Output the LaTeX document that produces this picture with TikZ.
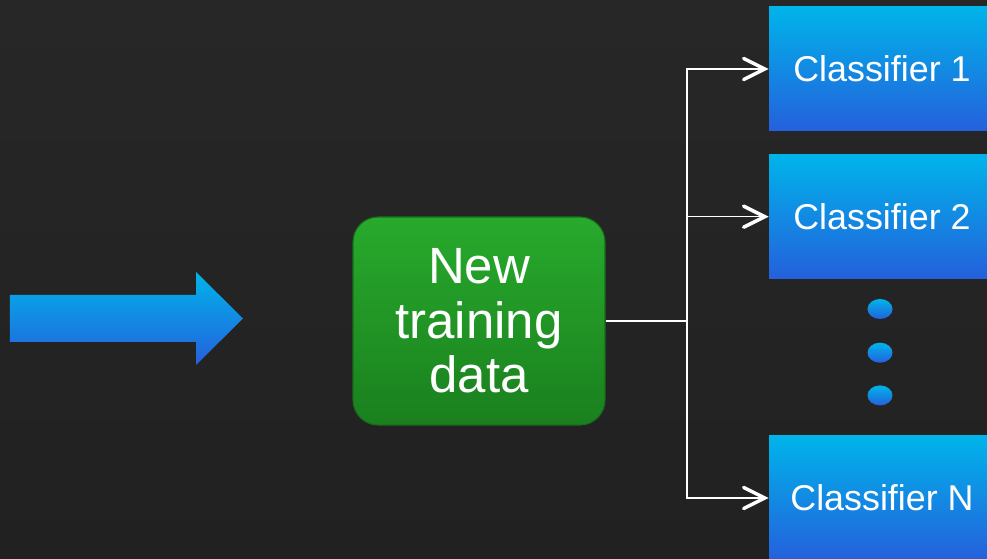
\documentclass[tikz,border=0pt]{standalone}
\usepackage{fontspec}
\setmainfont{Liberation Sans}
\usetikzlibrary{arrows.meta, positioning, shapes.geometric}
\definecolor{BgDark}{RGB}{34,33,33}
\definecolor{BgLight}{RGB}{40,39,40}
\definecolor{BlueTop}{RGB}{0,180,234}
\definecolor{BlueMid}{RGB}{0,142,228}
\definecolor{BlueBot}{RGB}{36,96,220}
\definecolor{GreenTop}{RGB}{40,170,44}
\definecolor{GreenBot}{RGB}{26,128,30}
\definecolor{GreenEdge}{RGB}{22,110,26}

\begin{document}
\begin{tikzpicture}[
  every node/.style={align=center, text=white},
  bluefill/.style={top color=BlueTop, middle color=BlueMid, bottom color=BlueBot},
  classbox/.style={bluefill, minimum width=4.52cm, minimum height=2.48cm, inner sep=0pt, font=\fontsize{20.4}{24}\selectfont},
  databox/.style={top color=GreenTop, bottom color=GreenBot, draw=GreenEdge, line width=0.6pt, rounded corners=0.5cm, minimum width=5.04cm, minimum height=4.16cm, font=\fontsize{29}{31}\selectfont},
  dotmark/.style={ellipse, bluefill, minimum width=0.5cm, minimum height=0.4cm, inner sep=0pt},
  feed/.style={draw=white, line width=0.8pt},
  feedarrow/.style={feed, -{Straight Barb[length=12pt, width=12pt, line width=2pt, line cap=round]}}
  ]

% Background
\useasboundingbox (0,0) rectangle (19.74,11.18);
\shade[top color=BgLight, bottom color=BgDark] (0,0) rectangle (19.74,11.18);

% Big input arrow
\shade[bluefill] (0.2,4.34) -- (3.92,4.34) -- (3.92,3.88) -- (4.86,4.81)
  -- (3.92,5.74) -- (3.92,5.28) -- (0.2,5.28) -- cycle;

% Central node
\node[databox] (data) at (9.58,4.76) {New\\training\\data};

% Classifiers
\node[classbox] (cls1) at (17.64,9.8) {Classifier 1};
\node[classbox, below=0.46cm of cls1] (cls2) {Classifier 2};
\node[classbox] (clsN) at (17.64,1.22) {Classifier N};

% Dots between
\node[dotmark] (dot1) at (17.6,5.0) {};
\node[dotmark, below=0.46cm of dot1] (dot2) {};
\node[dotmark, below=0.44cm of dot2] (dot3) {};

% Fork to the classifiers
\coordinate (fork) at (13.74,4.76);
\draw[feed] (data.east) -- (fork);
\draw[feedarrow] (fork) |- (cls1.west);
\draw[feedarrow] (fork) |- (cls2.west);
\draw[feedarrow] (fork) |- (clsN.west);
\end{tikzpicture}
\end{document}
